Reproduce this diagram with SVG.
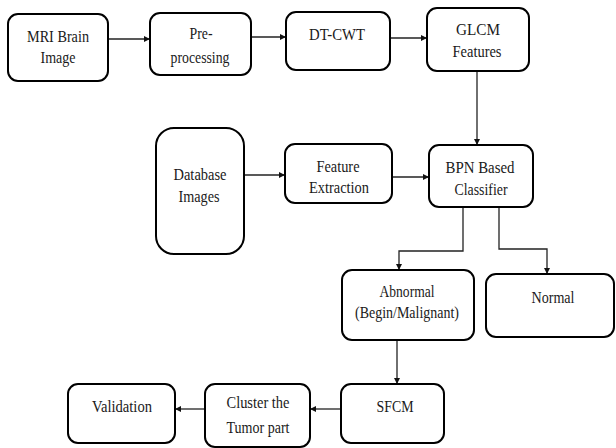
<svg xmlns="http://www.w3.org/2000/svg" width="616" height="448" viewBox="0 0 616 448">
<defs>
<marker id="ah" viewBox="0 0 10 10" refX="10" refY="5" markerWidth="7" markerHeight="6" markerUnits="userSpaceOnUse" orient="auto">
<path d="M0,0 L10,5 L0,10 z" fill="#111"/>
</marker>
</defs>
<style>
.box{fill:#fff;stroke:#000;stroke-width:2}
text{font-family:'Liberation Serif','Times New Roman',Times,serif;font-size:17.5px;fill:#1a1a1a;text-anchor:middle}
.c{fill:none;stroke:#222;stroke-width:1.3}
.a{marker-end:url(#ah)}
</style>
<rect width="616" height="448" fill="#fff"/>
<g id="connectors">
<line class="c a" x1="108" y1="39" x2="150" y2="39"/>
<line class="c a" x1="251" y1="37" x2="286" y2="37"/>
<line class="c a" x1="390" y1="38" x2="427" y2="38"/>
<line class="c a" x1="477" y1="71" x2="477" y2="145"/>
<line class="c a" x1="244" y1="175" x2="285" y2="175"/>
<line class="c a" x1="392" y1="177" x2="429" y2="177"/>
<polyline class="c a" points="463,207 463,251 399,251 399,270"/>
<polyline class="c a" points="499,207 499,249 547,249 547,274"/>
<line class="c a" x1="397" y1="340" x2="397" y2="384"/>
<line class="c a" x1="341" y1="409" x2="310" y2="409"/>
<line class="c a" x1="205" y1="409" x2="175" y2="409"/>
</g>
<g id="mri"><rect class="box" x="8" y="14" width="100" height="67" rx="10"/>
<text x="58" y="42" textLength="62" lengthAdjust="spacingAndGlyphs">MRI Brain</text>
<text x="58" y="63" textLength="35" lengthAdjust="spacingAndGlyphs">Image</text></g>
<g id="pre"><rect class="box" x="150" y="13" width="101" height="62" rx="10"/>
<text x="201" y="39" textLength="23" lengthAdjust="spacingAndGlyphs">Pre-</text>
<text x="200" y="63" textLength="59" lengthAdjust="spacingAndGlyphs">processing</text></g>
<g id="dtcwt"><rect class="box" x="286" y="12" width="104" height="58" rx="10"/>
<text x="337" y="40" textLength="56" lengthAdjust="spacingAndGlyphs">DT-CWT</text></g>
<g id="glcm"><rect class="box" x="427" y="8" width="102" height="63" rx="10"/>
<text x="478" y="35" textLength="44" lengthAdjust="spacingAndGlyphs">GLCM</text>
<text x="477" y="57" textLength="49" lengthAdjust="spacingAndGlyphs">Features</text></g>
<g id="database"><rect class="box" x="156" y="128" width="88" height="126" rx="18"/>
<text x="200" y="180" textLength="53" lengthAdjust="spacingAndGlyphs">Database</text>
<text x="199" y="202" textLength="41" lengthAdjust="spacingAndGlyphs">Images</text></g>
<g id="feature"><rect class="box" x="285" y="144" width="107" height="59" rx="10"/>
<text x="338" y="172" textLength="43" lengthAdjust="spacingAndGlyphs">Feature</text>
<text x="339" y="193" textLength="60" lengthAdjust="spacingAndGlyphs">Extraction</text></g>
<g id="bpn"><rect class="box" x="429" y="145" width="104" height="62" rx="10"/>
<text x="480" y="173" textLength="69" lengthAdjust="spacingAndGlyphs">BPN Based</text>
<text x="481" y="195" textLength="53" lengthAdjust="spacingAndGlyphs">Classifier</text></g>
<g id="abnormal"><rect class="box" x="342" y="270" width="132" height="70" rx="10"/>
<text x="407" y="297" textLength="55" lengthAdjust="spacingAndGlyphs">Abnormal</text>
<text x="407" y="318" textLength="104" lengthAdjust="spacingAndGlyphs">(Begin/Malignant)</text></g>
<g id="normal"><rect class="box" x="486" y="274" width="128" height="63" rx="10"/>
<text x="553" y="303" textLength="43" lengthAdjust="spacingAndGlyphs">Normal</text></g>
<g id="sfcm"><rect class="box" x="341" y="384" width="103" height="59" rx="10"/>
<text x="395" y="412" textLength="37" lengthAdjust="spacingAndGlyphs">SFCM</text></g>
<g id="cluster"><rect class="box" x="205" y="384" width="105" height="63" rx="10"/>
<text x="258" y="408" textLength="63" lengthAdjust="spacingAndGlyphs">Cluster the</text>
<text x="258" y="433" textLength="63" lengthAdjust="spacingAndGlyphs">Tumor part</text></g>
<g id="validation"><rect class="box" x="68" y="384" width="107" height="59" rx="10"/>
<text x="122" y="412" textLength="60" lengthAdjust="spacingAndGlyphs">Validation</text></g>
</svg>
